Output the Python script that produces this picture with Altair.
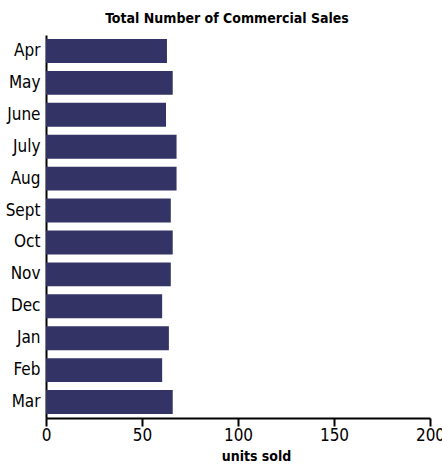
import altair as alt
import pandas as pd

months = ["Apr", "May", "June", "July", "Aug", "Sept", "Oct", "Nov", "Dec", "Jan", "Feb", "Mar"]
sales = [63, 66, 62.5, 68, 68, 65, 66, 65, 60.5, 64, 60.5, 66]

df = pd.DataFrame({"month": months, "sales": sales})

FONT = "'Liberation Sans Narrow', 'DejaVu Sans Condensed', 'Roboto Condensed', sans-serif"

chart = alt.Chart(df).mark_bar(color="#333366").encode(
    y=alt.Y("month:N", sort=months, title=None,
            scale=alt.Scale(paddingInner=0.25, paddingOuter=0.125),
            axis=alt.Axis(ticks=False, domainColor="black", domainWidth=2,
                          labelFont=FONT, labelFontSize=17, labelColor="black",
                          labelPadding=6)),
    x=alt.X("sales:Q", title="units sold",
            scale=alt.Scale(domain=[0, 200]),
            axis=alt.Axis(values=[0, 50, 100, 150, 200], grid=False,
                          domainColor="black", domainWidth=2,
                          tickColor="black", tickWidth=2, tickSize=8,
                          labelFont=FONT, labelFontSize=17, labelColor="black",
                          labelPadding=1, labelFlush=False,
                          titleFont=FONT, titleFontSize=14, titleFontWeight="bold",
                          titleColor="black", titlePadding=6, titleX=210)),
).properties(
    width=384,
    height=383,
    title=alt.TitleParams("Total Number of Commercial Sales", font=FONT, fontSize=14,
                          fontWeight="bold", color="black", offset=9, dx=-11),
    autosize=alt.AutoSizeParams(type="none"),
    padding={"left": 46, "top": 35, "right": 12, "bottom": 47},
).configure_view(stroke=None)

chart.save("out.html", embed_options={"renderer": "svg", "actions": False})
